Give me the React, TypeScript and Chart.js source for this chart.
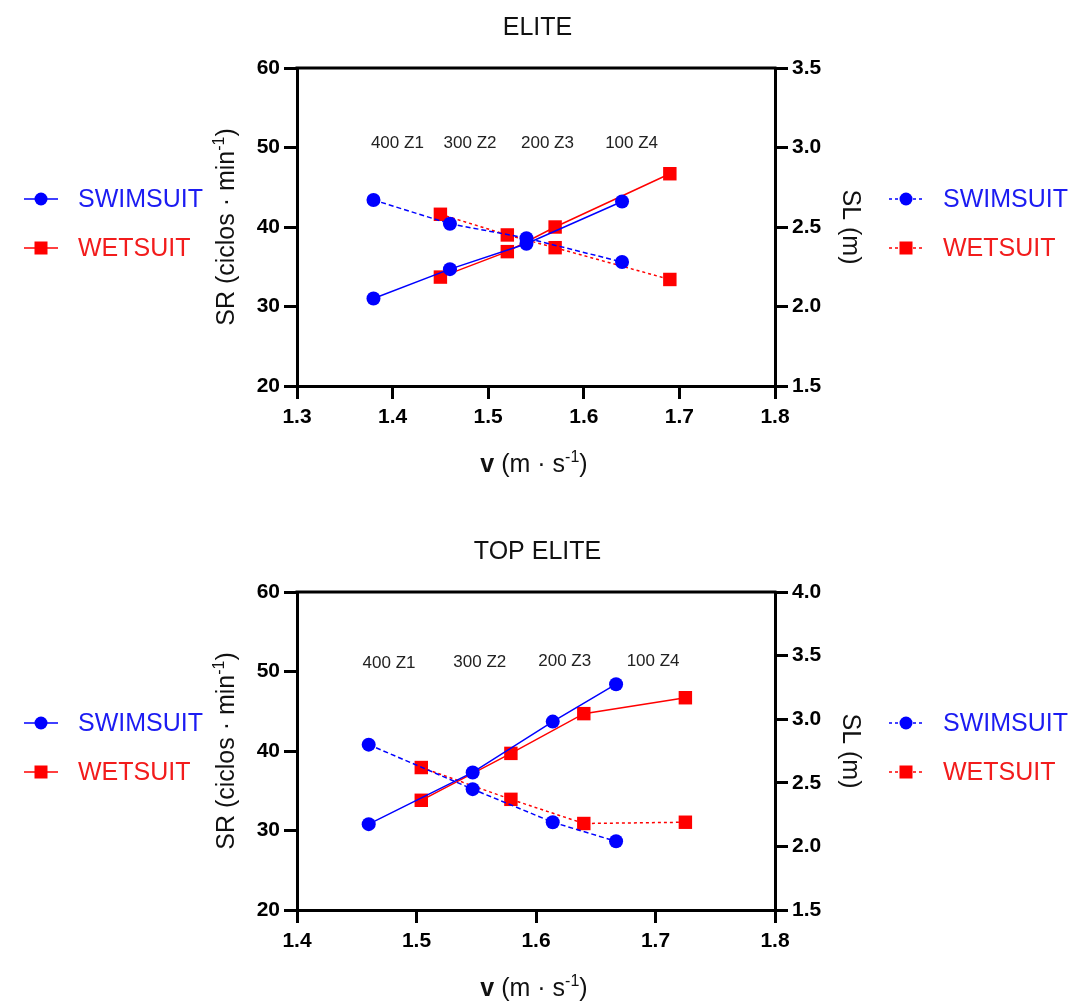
import React, { useEffect, useRef } from 'react';
import { Chart, registerables } from 'chart.js';

Chart.register(...registerables);

const FONT = "'Liberation Sans', Arial, Helvetica, sans-serif";
const BLUE = '#0000ff';
const RED = '#ff0000';
const BLUE_TEXT = '#1c1cf2';
const RED_TEXT = '#f21c1c';

// ---------- ELITE ----------
const eliteSwimV = [1.38, 1.46, 1.54, 1.64];
const eliteSwimSR = [31.0, 34.7, 37.9, 43.2];
const eliteSwimSL = [2.67, 2.52, 2.43, 2.28];
const eliteWetV = [1.45, 1.52, 1.57, 1.69];
const eliteWetSR = [33.7, 36.9, 40.0, 46.7];
const eliteWetSL = [2.58, 2.45, 2.37, 2.17];
const eliteZoneV = [1.405, 1.481, 1.562, 1.65];
const eliteZoneSR = [50.5, 50.5, 50.5, 50.5];

// ---------- TOP ELITE ----------
const topSwimV = [1.46, 1.547, 1.614, 1.667];
const topSwimSR = [30.8, 37.3, 43.7, 48.4];
const topSwimSL = [2.8, 2.45, 2.19, 2.04];
const topWetV = [1.504, 1.579, 1.64, 1.725];
const topWetSR = [33.8, 39.7, 44.7, 46.7];
const topWetSL = [2.62, 2.37, 2.18, 2.19];
const topZoneV = [1.477, 1.553, 1.624, 1.698];
const topZoneSR = [51.0, 51.15, 51.25, 51.3];

const zoneLabels = ['400 Z1', '300 Z2', '200 Z3', '100 Z4'];
const legendLabels = ['SWIMSUIT', 'WETSUIT'];
const titles = ['ELITE', 'TOP ELITE'];

type Part = { text: string; bold?: boolean; sup?: boolean };

function drawRich(ctx: CanvasRenderingContext2D, parts: Part[], size: number) {
  // draws centred at (0,0), alphabetic baseline
  const fontFor = (p: Part) =>
    `${p.bold ? 'bold ' : ''}${p.sup ? Math.round(size * 0.64) : size}px ${FONT}`;
  let total = 0;
  const widths = parts.map((p) => {
    ctx.font = fontFor(p);
    const w = ctx.measureText(p.text).width;
    total += w;
    return w;
  });
  let x = -total / 2;
  ctx.textAlign = 'left';
  ctx.textBaseline = 'alphabetic';
  parts.forEach((p, i) => {
    ctx.font = fontFor(p);
    ctx.fillText(p.text, x, p.sup ? -size * 0.42 : 0);
    x += widths[i];
  });
}

function legendEntry(
  ctx: CanvasRenderingContext2D,
  cx: number,
  y: number,
  color: string,
  textColor: string,
  style: 'circle' | 'rect',
  dashed: boolean,
  text: string
) {
  ctx.save();
  ctx.strokeStyle = color;
  ctx.lineWidth = 1.5;
  ctx.setLineDash(dashed ? [3, 3] : []);
  ctx.beginPath();
  ctx.moveTo(cx - 17, y);
  ctx.lineTo(cx + 17, y);
  ctx.stroke();
  ctx.setLineDash([]);
  ctx.fillStyle = color;
  if (style === 'circle') {
    ctx.beginPath();
    ctx.arc(cx, y, 6.5, 0, Math.PI * 2);
    ctx.fill();
  } else {
    ctx.fillRect(cx - 6.5, y - 6.5, 13, 13);
  }
  ctx.fillStyle = textColor;
  ctx.font = `25px ${FONT}`;
  ctx.textAlign = 'left';
  ctx.textBaseline = 'middle';
  ctx.fillText(text, cx + 37, y + 1);
  ctx.restore();
}

type Panel = {
  title: string;
  height: number;
  top: number;
  bottom: number;
  xMin: number;
  xMax: number;
  slMin: number;
  slMax: number;
  swimV: number[];
  swimSR: number[];
  swimSL: number[];
  wetV: number[];
  wetSR: number[];
  wetSL: number[];
  zoneV: number[];
  zoneSR: number[];
};

const PLOT_LEFT = 297;
const PLOT_RIGHT = 775;
const W = 1074;

function makeConfig(p: Panel): any {
  const pts = (xs: number[], ys: number[]) => xs.map((x, i) => ({ x, y: ys[i] }));
  const tickFont = { family: FONT, size: 21, weight: 'bold' as const };
  const grid = {
    display: true,
    drawOnChartArea: false,
    drawTicks: true,
    tickLength: 13,
    lineWidth: 3,
    color: '#000',
  };
  const border = { display: true, width: 3, color: '#000' };

  const decor = {
    id: 'decor',
    afterDraw(chart: any) {
      const ctx: CanvasRenderingContext2D = chart.ctx;
      const a = chart.chartArea;
      const xs = chart.scales.x;
      const ys = chart.scales.ySR;
      const midY = (a.top + a.bottom) / 2;
      ctx.save();
      // top frame line
      ctx.strokeStyle = '#000';
      ctx.lineWidth = 3;
      ctx.beginPath();
      ctx.moveTo(a.left - 1.5, a.top);
      ctx.lineTo(a.right + 1.5, a.top);
      ctx.stroke();

      // title
      ctx.fillStyle = '#111';
      ctx.font = `25px ${FONT}`;
      ctx.textAlign = 'center';
      ctx.textBaseline = 'alphabetic';
      ctx.fillText(p.title, 537.5, a.top - 33);

      // zone labels
      ctx.fillStyle = '#222';
      ctx.font = `17px ${FONT}`;
      ctx.textAlign = 'center';
      ctx.textBaseline = 'middle';
      zoneLabels.forEach((t, i) => {
        ctx.fillText(t, xs.getPixelForValue(p.zoneV[i]), ys.getPixelForValue(p.zoneSR[i]));
      });

      // x title
      ctx.save();
      ctx.fillStyle = '#111';
      ctx.translate((a.left + a.right) / 2 - 2, a.bottom + 86);
      drawRich(
        ctx,
        [
          { text: 'v', bold: true },
          { text: ' (m · s' },
          { text: '-1', sup: true },
          { text: ')' },
        ],
        25
      );
      ctx.restore();

      // left y title
      ctx.save();
      ctx.fillStyle = '#111';
      ctx.translate(234, midY);
      ctx.rotate(-Math.PI / 2);
      drawRich(
        ctx,
        [{ text: 'SR (ciclos · min' }, { text: '-1', sup: true }, { text: ')' }],
        25
      );
      ctx.restore();

      // right y title
      ctx.save();
      ctx.fillStyle = '#111';
      ctx.translate(843, midY);
      ctx.rotate(Math.PI / 2);
      drawRich(ctx, [{ text: 'SL (m)' }], 25);
      ctx.restore();

      // legends
      legendEntry(ctx, 41, midY - 28, BLUE, BLUE_TEXT, 'circle', false, legendLabels[0]);
      legendEntry(ctx, 41, midY + 21, RED, RED_TEXT, 'rect', false, legendLabels[1]);
      legendEntry(ctx, 906, midY - 28, BLUE, BLUE_TEXT, 'circle', true, legendLabels[0]);
      legendEntry(ctx, 906, midY + 21, RED, RED_TEXT, 'rect', true, legendLabels[1]);
      ctx.restore();
    },
  };

  return {
    type: 'line',
    data: {
      datasets: [
        {
          label: 'SWIMSUIT SR',
          data: pts(p.swimV, p.swimSR),
          yAxisID: 'ySR',
          borderColor: BLUE,
          backgroundColor: BLUE,
          borderWidth: 1.5,
          pointStyle: 'circle',
          pointRadius: 7,
          pointBorderWidth: 0,
          order: 1,
        },
        {
          label: 'SWIMSUIT SL',
          data: pts(p.swimV, p.swimSL),
          yAxisID: 'ySL',
          borderColor: BLUE,
          backgroundColor: BLUE,
          borderWidth: 1.5,
          borderDash: [5, 3],
          pointStyle: 'circle',
          pointRadius: 7,
          pointBorderWidth: 0,
          order: 2,
        },
        {
          label: 'WETSUIT SR',
          data: pts(p.wetV, p.wetSR),
          yAxisID: 'ySR',
          borderColor: RED,
          backgroundColor: RED,
          borderWidth: 1.5,
          pointStyle: 'rect',
          pointRadius: 9.5,
          pointBorderWidth: 0,
          order: 3,
        },
        {
          label: 'WETSUIT SL',
          data: pts(p.wetV, p.wetSL),
          yAxisID: 'ySL',
          borderColor: RED,
          backgroundColor: RED,
          borderWidth: 1.5,
          borderDash: [3, 3],
          pointStyle: 'rect',
          pointRadius: 9.5,
          pointBorderWidth: 0,
          order: 4,
        },
      ],
    },
    options: {
      responsive: false,
      animation: false,
      devicePixelRatio: 1,
      layout: { padding: { top: p.top, left: 0, right: 0, bottom: 0 } },
      plugins: {
        legend: { display: false },
        tooltip: { enabled: false },
        title: { display: false },
      },
      scales: {
        x: {
          type: 'linear',
          min: p.xMin,
          max: p.xMax,
          grid,
          border,
          ticks: {
            stepSize: 0.1,
            autoSkip: false,
            maxRotation: 0,
            padding: 6,
            color: '#000',
            font: tickFont,
            callback: (v: any) => Number(v).toFixed(1),
          },
          afterFit: (s: any) => {
            s.height = p.height - p.bottom;
          },
        },
        ySR: {
          type: 'linear',
          position: 'left',
          min: 20,
          max: 60,
          grid,
          border,
          ticks: { stepSize: 10, padding: 4, color: '#000', font: tickFont },
          afterFit: (s: any) => {
            s.width = PLOT_LEFT;
          },
        },
        ySL: {
          type: 'linear',
          position: 'right',
          min: p.slMin,
          max: p.slMax,
          grid,
          border,
          ticks: {
            stepSize: 0.5,
            padding: 4,
            color: '#000',
            font: tickFont,
            callback: (v: any) => Number(v).toFixed(1),
          },
          afterFit: (s: any) => {
            s.width = W - PLOT_RIGHT;
          },
        },
      },
    },
    plugins: [decor],
  };
}

const panels: Panel[] = [
  {
    title: titles[0],
    height: 520,
    top: 68,
    bottom: 386,
    xMin: 1.3,
    xMax: 1.8,
    slMin: 1.5,
    slMax: 3.5,
    swimV: eliteSwimV,
    swimSR: eliteSwimSR,
    swimSL: eliteSwimSL,
    wetV: eliteWetV,
    wetSR: eliteWetSR,
    wetSL: eliteWetSL,
    zoneV: eliteZoneV,
    zoneSR: eliteZoneSR,
  },
  {
    title: titles[1],
    height: 483,
    top: 72,
    bottom: 390,
    xMin: 1.4,
    xMax: 1.8,
    slMin: 1.5,
    slMax: 4.0,
    swimV: topSwimV,
    swimSR: topSwimSR,
    swimSL: topSwimSL,
    wetV: topWetV,
    wetSR: topWetSR,
    wetSL: topWetSL,
    zoneV: topZoneV,
    zoneSR: topZoneSR,
  },
];

function PanelChart({ panel }: { panel: Panel }) {
  const ref = useRef<HTMLCanvasElement | null>(null);
  useEffect(() => {
    if (!ref.current) return;
    const chart = new Chart(ref.current, makeConfig(panel));
    return () => chart.destroy();
  }, [panel]);
  return (
    <canvas
      ref={ref}
      width={W}
      height={panel.height}
      style={{ display: 'block', width: W, height: panel.height }}
    />
  );
}

export default function App() {
  useEffect(() => {
    document.body.style.margin = '0';
  }, []);
  return (
    <div
      style={{
        position: 'absolute',
        left: 0,
        top: 0,
        width: W,
        height: 1003,
        background: '#fff',
      }}
    >
      <PanelChart panel={panels[0]} />
      <PanelChart panel={panels[1]} />
    </div>
  );
}
